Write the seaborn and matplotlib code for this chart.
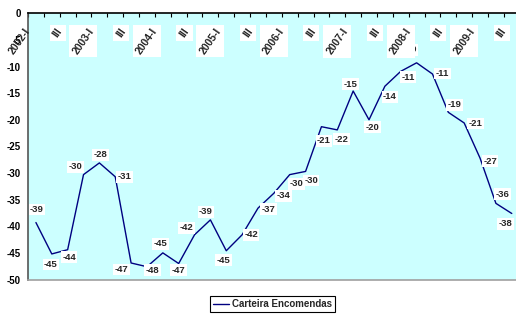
import numpy as np
import pandas as pd
import matplotlib
matplotlib.use("Agg")
import matplotlib.pyplot as plt
from matplotlib.patches import Rectangle
import seaborn as sns

# ---------------------------------------------------------------------------
# DATA  (quarterly balance, 2002-I .. 2009-III)
# ---------------------------------------------------------------------------
QUARTERS = [f"{y}-{q}" for y in range(2002, 2010) for q in ("I", "II", "III", "IV")][:31]
VALUES = [-39.3, -45.2, -44.4, -30.3, -28.1, -30.7, -46.9, -47.6, -45.0, -47.0,
          -41.6, -38.8, -44.6, -41.6, -36.6, -33.8, -30.3, -29.7, -21.3, -21.9,
          -14.6, -20.0, -13.7, -10.9, -9.3, -11.4, -18.6, -20.6, -27.2, -35.7, -37.6]
TICK_LABELS = [q if q.endswith("-I") else "III" for q in QUARTERS[::2]]
SERIES = "Carteira Encomendas"

# label offsets (pixels, dx / dy with y up) - mimic Excel placement
LABEL_OFFSETS = [(1, 13), (-1, -10.5), (1.5, -7.5), (-8, 8), (1, 8), (9.5, 0),
                 (-9.5, -6.5), (5.5, -3.5), (-2.5, 9), (0, -6.5), (-8, 7),
                 (-4.5, 8), (-3, -9.5), (9, 0), (10.5, -1), (9.5, -2.5),
                 (6.5, -9), (5.5, -9), (2.5, -14), (4.5, -9.5), (-3, 7),
                 (3.5, -7.5), (5, -10.5), (7.5, -6), (-4, 13), (10, 0.5),
                 (6.5, 7.5), (11, -0.5), (10, -3), (6.5, 9), (-6.5, -10.5)]

df = pd.DataFrame({"idx": np.arange(len(VALUES)), "value": VALUES})

# ---------------------------------------------------------------------------
# PLOT
# ---------------------------------------------------------------------------
sns.set_style("white")
plt.rcParams["font.family"] = ["Liberation Sans", "DejaVu Sans"]

fig = plt.figure(figsize=(5.16, 3.14), dpi=100)
ax = fig.add_axes([28 / 516, 1 - 279.5 / 314, 491.7 / 516, 266.2 / 314])
ax.set_facecolor("#CCFFFF")

sns.lineplot(data=df, x="idx", y="value", color="#000080", linewidth=1.0,
             ax=ax, label=SERIES, zorder=3)

ax.set_xlim(-0.5, 30.5)
ax.set_ylim(-50, 0)
ax.set_yticks(np.arange(-50, 1, 5))
ax.set_yticklabels([str(v) for v in range(-50, 1, 5)], fontsize=7, fontweight="bold")
ax.tick_params(axis="y", direction="out", length=3, width=0.8, pad=2, colors="black")

# x axis sits at 0 on top; tick marks on category boundaries
ax.xaxis.tick_top()
ax.set_xticks(np.arange(-0.5, 31, 1))
ax.tick_params(axis="x", direction="in", length=3, width=0.8, labeltop=False,
               labelbottom=False, colors="black")
ax.set_xlabel("")
ax.set_ylabel("")

for side in ("top", "left", "bottom"):
    ax.spines[side].set_visible(True)
ax.spines["top"].set_color("black")
ax.spines["top"].set_linewidth(1.2)
ax.spines["left"].set_color("#555555")
ax.spines["left"].set_linewidth(1.2)
ax.spines["bottom"].set_color("#A0A0A0")
ax.spines["bottom"].set_linewidth(1.2)
ax.spines["right"].set_visible(False)

# data labels
for i, v in enumerate(VALUES):
    dx, dy = LABEL_OFFSETS[i]
    ax.annotate(f"{round(v):d}", (i, v), xytext=(dx, dy), textcoords="offset pixels",
                ha="center", va="center", fontsize=6.8, fontweight="bold", zorder=5,
                bbox=dict(boxstyle="square,pad=0.15", fc="white", ec="none"))

# category labels below the top axis line, rotated, with white boxes
cat_texts = []
for k, lab in enumerate(TICK_LABELS):
    t = ax.annotate(lab, (2 * k, 1), xycoords=("data", "axes fraction"),
                    xytext=(-3.5, -13), textcoords="offset pixels",
                    rotation=55, ha="right", va="top", fontsize=7.5,
                    fontweight="bold", color="#222222", zorder=8,
                    annotation_clip=False)
    cat_texts.append((k, t))

leg = ax.legend(loc="center", bbox_to_anchor=(272.5 / 516, 1 - 304 / 314),
                bbox_transform=fig.transFigure, frameon=True, fancybox=False,
                edgecolor="black", framealpha=1, handlelength=1.6,
                handletextpad=0.3, borderpad=0.3,
                prop={"weight": "bold", "size": 7})
leg.get_frame().set_linewidth(0.8)

# axis-aligned white boxes behind the rotated category labels
fig.canvas.draw()
renderer = fig.canvas.get_renderer()
for k, t in cat_texts:
    if k == 0:
        continue
    bb = t.get_window_extent(renderer)
    x0, y0 = fig.transFigure.inverted().transform((bb.x0 - 1.5, bb.y0 - 1.5))
    x1, y1 = fig.transFigure.inverted().transform((bb.x1 + 1.5, bb.y1 + 1.5))
    ax.add_patch(Rectangle((x0, y0), x1 - x0, y1 - y0, transform=fig.transFigure,
                           facecolor="white", edgecolor="none", zorder=7,
                           clip_on=False))

fig.savefig("out.png", dpi=100)
